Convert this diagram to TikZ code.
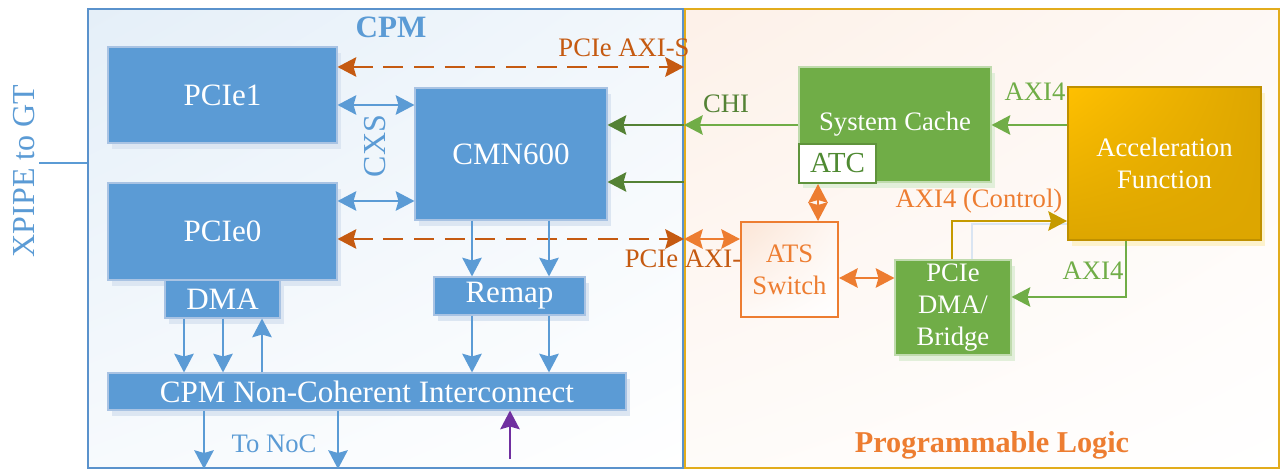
\documentclass[tikz,border=0pt]{standalone}
\usepackage{fontspec}
\setmainfont{Liberation Serif}
\usetikzlibrary{arrows.meta,shadows,shadings}

\definecolor{cpmblue}{HTML}{5B9BD5}
\definecolor{cpmframe}{HTML}{5A92CC}
\definecolor{boxedge}{HTML}{A9C3E3}
\definecolor{shblue}{HTML}{DCE6F2}
\definecolor{dorange}{HTML}{C55A11}
\definecolor{plorange}{HTML}{ED7D31}
\definecolor{lgreen}{HTML}{70AD47}
\definecolor{dgreen}{HTML}{548235}
\definecolor{atcgreen}{HTML}{4F8A32}
\definecolor{shgreen}{HTML}{E2EFDA}
\definecolor{gold}{HTML}{DDA600}
\definecolor{goldtop}{HTML}{FFC000}
\definecolor{goldedge}{HTML}{BF9000}
\definecolor{goldline}{HTML}{C59A00}
\definecolor{shgold}{HTML}{FDF2CC}
\definecolor{plframe}{HTML}{E2AC1C}
\definecolor{purp}{HTML}{7030A0}
\definecolor{faintblue}{HTML}{DAE5F2}

\newcommand\bigf{\fontsize{23.3}{27}\selectfont}
\newcommand\smf{\fontsize{20}{24}\selectfont}

\begin{document}
\begin{tikzpicture}[x=0.75pt,y=-0.75pt,
  >={Stealth[length=14pt,width=14.5pt,inset=2pt]},
  % a rectangle given by its corners, in picture units
  rect/.style args={#1,#2,#3,#4}{rectangle, inner sep=0pt,
    minimum width={(#3-#1)*0.75pt}, minimum height={(#4-#2)*0.75pt},
    at={({(#1+#3)/2},{(#2+#4)/2})}},
  bbox/.style={fill=cpmblue, draw=boxedge, line width=0.8pt, text=white,
    font=\bigf,
    drop shadow={shadow xshift=3pt,shadow yshift=-4.5pt,fill=shblue,opacity=1}},
  gbox/.style={fill=lgreen, draw=shgreen!70!lgreen, line width=0.8pt, text=white,
    font=\smf, align=center,
    drop shadow={shadow xshift=3pt,shadow yshift=-4.5pt,fill=shgreen,opacity=1}},
  barrow/.style={draw=cpmblue, line width=2pt},
  darrow/.style={draw=dorange, line width=2pt, dash pattern=on 15pt off 8pt},
  oarrow/.style={draw=plorange, line width=2pt},
  lgarrow/.style={draw=lgreen, line width=1.75pt},
  dgarrow/.style={draw=dgreen, line width=1.75pt},
  lbl/.style={font=\smf, anchor=base, inner sep=0pt}]

\useasboundingbox (0,0) rectangle (1282,470);
\fill[white] (0,0) rectangle (1282,470);

% the two regions
\node[rect={88,9,683,468}, draw=cpmframe, line width=1.5pt,
  upper left=cpmblue!16, upper right=cpmblue!8, lower left=cpmblue!5, lower right=white] (cpm) {};
\node[rect={685,9,1279,468}, draw=plframe, line width=1.5pt,
  upper left=plorange!11, upper right=plorange!5, lower left=plorange!3, lower right=white] (pl) {};

% CPM blocks
\node[bbox, rect={108,47,337,143}] (pcie1) {PCIe1};
\node[bbox, rect={108,183,337,280}] (pcie0) {PCIe0};
\node[bbox, rect={415,88,607,220}] (cmn) {CMN600};
\node[bbox, rect={165,280,280,318}] (dma) {DMA};
\node[bbox, rect={434,277,585,315}] (remap) {Remap};
\node[bbox, rect={108,373,626,410}] (nci) {CPM Non-Coherent Interconnect};

% programmable logic blocks
\node[gbox, rect={799,67,991,182}] (cache) {System Cache};
\node[rect={799,144,876,183}, fill=white, draw=lgreen!85!black,
  line width=1.5pt, text=atcgreen, font=\fontsize{21.8}{24}\selectfont] (atc) {ATC};
\node[rect={1068,87,1261,240}, draw=goldedge, line width=1.5pt,
  upper left=goldtop, upper right=gold, lower left=gold, lower right=gold,
  text=white, font=\smf, align=center,
  drop shadow={shadow xshift=3pt,shadow yshift=-4.5pt,fill=shgold,opacity=1}] (acc) {Acceleration\\Function};
\node[rect={741,222,838,317}, draw=plorange, line width=1.5pt,
  upper left=plorange!20, upper right=plorange!6, lower left=plorange!4, lower right=white,
  text=plorange, font=\smf, align=center] (ats) {ATS\\Switch};
\node[gbox, rect={895,260,1011,355}] (pdma) {PCIe\\DMA/\\Bridge};

% reference rows and columns for the connectors
\coordinate (y67) at (0,67);
\coordinate (y105) at (0,105);
\coordinate (y125) at (0,125);
\coordinate (y182) at (0,182);
\coordinate (y201) at (0,201);
\coordinate (y221) at (0,221);
\coordinate (y224) at (0,224);
\coordinate (y239) at (0,239);
\coordinate (y278) at (0,278);
\coordinate (y297) at (0,297);
\coordinate (x184) at (184,0);
\coordinate (x204) at (204,0);
\coordinate (x223) at (223,0);
\coordinate (x262) at (262,0);
\coordinate (x338) at (338,0);
\coordinate (x472) at (472,0);
\coordinate (x549) at (549,0);
\coordinate (x818) at (818,0);
\coordinate (x952) at (952,0);
\coordinate (x972) at (972,0);
\coordinate (x1126) at (1126,0);
\coordinate (gt) at (39,163);
\coordinate (pin) at (510,459);

% external link
\draw[barrow, line width=2.2pt] (gt) -- (cpm.west |- gt);

% PCIe AXI-S links
\draw[darrow,<->] (pcie1.east |- y67) -- (cpm.east |- y67);
\draw[darrow,<->] (pcie0.east |- y239) -- (cpm.east |- y239);

% CXS links
\draw[barrow,<->] (pcie1.east |- y105) -- (cmn.west |- y105);
\draw[barrow,<->] (pcie0.east |- y201) -- (cmn.west |- y201);

% CMN600 through remap to interconnect
\draw[barrow,->] (cmn.south -| x472) -- (remap.north -| x472);
\draw[barrow,->] (cmn.south -| x549) -- (remap.north -| x549);
\draw[barrow,->] (remap.south -| x472) -- (nci.north -| x472);
\draw[barrow,->] (remap.south -| x549) -- (nci.north -| x549);

% DMA and interconnect
\draw[barrow,->] (dma.south -| x184) -- (nci.north -| x184);
\draw[barrow,->] (dma.south -| x223) -- (nci.north -| x223);
\draw[barrow,->] (nci.north -| x262) -- (dma.south -| x262);

% to NoC and inbound
\draw[barrow,->] (nci.south -| x204) -- (cpm.south -| x204);
\draw[barrow,->] (nci.south -| x338) -- (cpm.south -| x338);
\draw[draw=purp, line width=1.8pt,->] (pin) -- (nci.south -| pin);

% CHI to CMN600
\draw[dgarrow,->] (cpm.east |- y125) -- (cmn.east |- y125);
\draw[dgarrow,->] (cpm.east |- y182) -- (cmn.east |- y182);
\draw[lgarrow,->] (cache.west |- y125) -- (pl.west |- y125);

% AXI4 links
\draw[lgarrow,->] (acc.west |- y125) -- (cache.east |- y125);
\draw[lgarrow,->] (acc.south -| x1126) |- (pdma.east |- y297);
\draw[draw=faintblue, line width=1.5pt] (pdma.north -| x972) |- (acc.west |- y224);
\draw[draw=goldline, line width=1.5pt,->] (pdma.north -| x952) |- (acc.west |- y221);

% ATS switch links
\draw[oarrow,<->] (atc.south -| x818) -- (ats.north -| x818);
\draw[oarrow,<->] (pl.west |- y239) -- (ats.west |- y239);
\draw[oarrow,<->] (ats.east |- y278) -- (pdma.west |- y278);

% labels
\node[font=\bfseries\fontsize{23.3}{27}\selectfont, text=cpmblue, anchor=base, inner sep=0pt] (tcpm) at (391,38) {CPM};
\node[font=\fontsize{24}{27}\selectfont, text=cpmblue, rotate=90, inner sep=0pt] (txpipe) at (24,171) {XPIPE to GT};
\node[font=\fontsize{24}{27}\selectfont, text=cpmblue, rotate=90, inner sep=0pt] (tcxs) at (375,146) {CXS};
\node[lbl, text=dorange] (taxis) at (624,57) {PCIe AXI-S};
\node[lbl, text=dorange] (taxi0) at (683,268) {PCIe AXI-};
\node[lbl, text=dgreen] (tchi) at (726,113) {CHI};
\node[lbl, text=lgreen] (taxi1) at (1035,101) {AXI4};
\node[lbl, text=plorange] (tctl) at (979,208) {AXI4 (Control)};
\node[lbl, text=lgreen] (taxi2) at (1093,280) {AXI4};
\node[lbl, text=cpmblue] (tnoc) at (274,452) {To NoC};
\node[font=\bfseries\fontsize{22.7}{26}\selectfont, text=plorange, anchor=base, inner sep=0pt] (tpl) at (992,452) {Programmable Logic};

\end{tikzpicture}
\end{document}
